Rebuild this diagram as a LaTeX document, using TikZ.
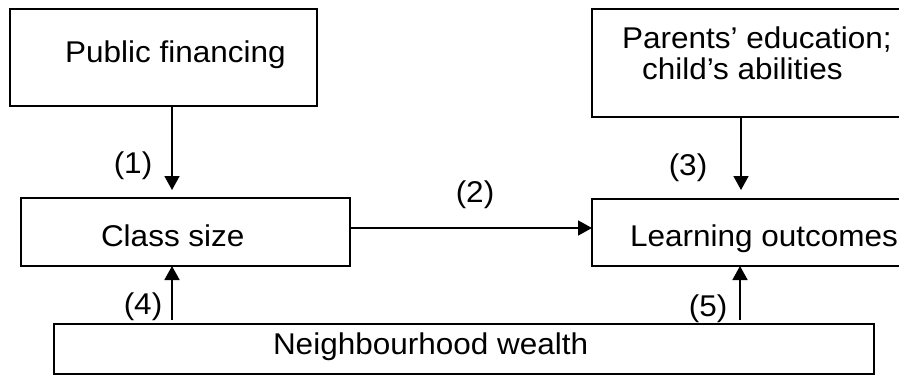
\documentclass[tikz,border=0pt]{standalone}
\usepackage{fontspec}
\setmainfont[FakeStretch=1.05]{Liberation Sans}
\usetikzlibrary{arrows.meta}

\tikzset{
  box/.style={draw, line width=1.3pt, inner sep=0pt, outer sep=0pt},
  txt/.style={inner sep=0pt, outer sep=0pt, font=\fontsize{30}{34}\selectfont},
  arr/.style={line width=1.6pt, -{Triangle[length=14pt,width=15pt]}}
}

\begin{document}
\begin{tikzpicture}[x=1pt, y=-1pt]
  \path[use as bounding box] (0,0) rectangle (899,375);
  \clip (0,0) rectangle (899,375);

  % boxes
  \node[box, minimum width=307pt, minimum height=97pt]  (pf) at (163.5,57.5) {};
  \node[box, minimum width=329pt, minimum height=68pt]  (cs) at (185.5,232) {};
  \node[box, minimum width=314pt, minimum height=108pt] (pe) at (749,63) {};
  \node[box, minimum width=314pt, minimum height=67pt]  (lo) at (749,232.5) {};
  \node[box, minimum width=820pt, minimum height=50pt]  (nw) at (464,349) {};

  % box texts
  \node[txt, anchor=base west] (pft) at (65,62) {Public financing};
  \node[txt, anchor=base west] (cst) at (101,246) {Class size};
  \node[txt, anchor=base west] (pet1) at (622,48) {Parents’ education;};
  \node[txt, anchor=base west] (pet2) at (642,79) {child’s abilities};
  \node[txt, anchor=base west] (lot) at (630,246) {Learning outcomes};
  \node[txt, anchor=base west] (nwt) at (273,354) {Neighbourhood wealth};

  % arrow ends
  \coordinate (t1) at (172,190);
  \coordinate (t3) at (741,190);
  \coordinate (r2) at (0,228);
  \coordinate (s4) at (172,320);
  \coordinate (s5) at (740,320);

  % connectors
  \draw[arr] (pf.south -| t1) -- (t1);
  \draw[arr] (pe.south -| t3) -- (t3);
  \draw[arr] (cs.east |- r2) -- (lo.west |- r2);
  \draw[arr] (s4) -- (cs.south -| s4);
  \draw[arr] (s5) -- (lo.south -| s5);

  % connector labels
  \node[txt] (l1) at (133,166) {(1)};
  \node[txt] (l2) at (475,195) {(2)};
  \node[txt] (l3) at (688,168) {(3)};
  \node[txt] (l4) at (143,307) {(4)};
  \node[txt] (l5) at (708,309) {(5)};
\end{tikzpicture}
\end{document}
